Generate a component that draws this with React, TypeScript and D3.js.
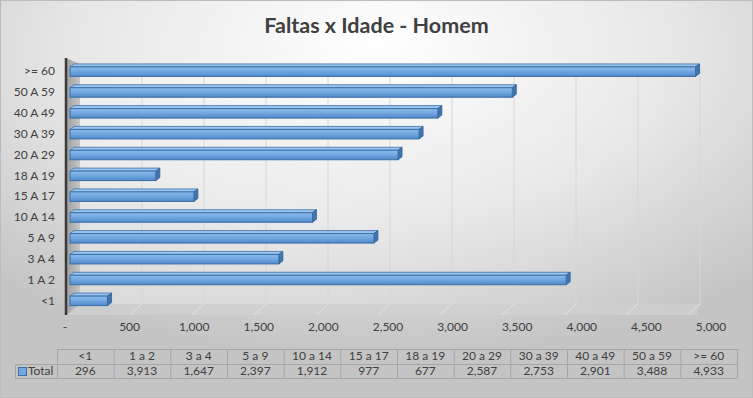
import * as d3 from 'd3';

const categories = ['<1', '1 A 2', '3 A 4', '5 A 9', '10 A 14', '15 A 17', '18 A 19', '20 A 29', '30 A 39', '40 A 49', '50 A 59', '>= 60'];
const tableLabels = ['<1', '1 a 2', '3 a 4', '5 a 9', '10 a 14', '15 a 17', '18 a 19', '20 a 29', '30 a 39', '40 a 49', '50 a 59', '>= 60'];
const totals = [296, 3913, 1647, 2397, 1912, 977, 677, 2587, 2753, 2901, 3488, 4933];
const tickValues = [0, 500, 1000, 1500, 2000, 2500, 3000, 3500, 4000, 4500, 5000];

const W = 753;
const H = 398;
const FONT = 'Lato, "Open Sans", sans-serif';
const TEXT = '#404040';

export default function App() {
  // three views of the same value axis: back wall, bars, front labels (3D look)
  const xBack = d3.scaleLinear().domain([0, 5000]).range([80, 700]);
  const xBar = d3.scaleLinear().domain([0, 5000]).range([70, 704]);
  const xLab = d3.scaleLinear().domain([0, 5000]).range([65, 711]);

  const y = d3
    .scaleBand<string>()
    .domain([...categories].reverse())
    .range([61, 311]);

  const fmt = d3.format(',');
  const tickText = (v: number) => (v === 0 ? '-' : fmt(v));

  const depthX = 4;
  const depthY = 3;
  const faceH = 9.5;

  const col = d3
    .scaleBand<string>()
    .domain(tableLabels)
    .range([57, 737]);
  const rowTop = 349;
  const rowMid = 364;
  const rowBot = 378;

  const wallTop = 64;
  const wallBot = 304;
  const frontBot = 315;

  return (
    <div style={{ position: 'absolute', left: 0, top: 0 }}>
      <svg width={W} height={H} style={{ display: 'block', fontFamily: FONT }}>
        <defs>
          <radialGradient id="bg" cx="50%" cy="15%" r="75%" fx="50%" fy="10%">
            <stop offset="0%" stopColor="#ffffff" />
            <stop offset="55%" stopColor="#e6e6e6" />
            <stop offset="100%" stopColor="#c4c4c4" />
          </radialGradient>
          <linearGradient id="wall" x1="0" y1="0" x2="1" y2="0">
            <stop offset="0%" stopColor="#ffffff" stopOpacity={0.35} />
            <stop offset="100%" stopColor="#ffffff" stopOpacity={0} />
          </linearGradient>
          <linearGradient id="side" x1="0" y1="0" x2="1" y2="0">
            <stop offset="0%" stopColor="#9e9e9e" />
            <stop offset="100%" stopColor="#c6c6c6" />
          </linearGradient>
          <linearGradient id="barFace" x1="0" y1="0" x2="0" y2="1">
            <stop offset="0%" stopColor="#8cbcec" />
            <stop offset="45%" stopColor="#72a9e2" />
            <stop offset="100%" stopColor="#5189ca" />
          </linearGradient>
        </defs>

        <rect x={0} y={0} width={W} height={H} fill="url(#bg)" />
        <rect x={0.5} y={0.5} width={W - 1} height={H - 1} fill="none" stroke="#bcbcbc" />

        <text x={W / 2} y={33} textAnchor="middle" fontSize={21.5} fontWeight={700} fill={TEXT}>
          Faltas x Idade - Homem
        </text>

        {/* back wall */}
        <rect x={xBack(0)} y={wallTop} width={xBack(5000) - xBack(0)} height={wallBot - wallTop} fill="url(#wall)" />

        {/* floor */}
        <path
          d={`M${xBack(0)},${wallBot} L${xBack(5000)},${wallBot} L${xLab(5000) - 14},${frontBot} L66,${frontBot} Z`}
          fill="#d2d2d2"
          opacity={0.6}
        />

        {/* gridlines on wall and floor */}
        {tickValues.slice(1).map((v) => (
          <g key={v}>
            <line x1={xBack(v)} x2={xBack(v)} y1={wallTop} y2={wallBot} stroke="#d6d6d6" strokeWidth={1} />
            <line x1={xBack(v)} x2={xBack(v) - 12} y1={wallBot} y2={frontBot} stroke="#e2e2e2" strokeWidth={1} />
          </g>
        ))}

        {/* left side wall */}
        <path d={`M66,${wallTop - 6} L80,${wallTop} L80,${wallBot} L66,${frontBot} Z`} fill="url(#side)" />
        <line x1={66} x2={66} y1={wallTop - 6} y2={frontBot} stroke="#3a3a3a" strokeWidth={2.5} />

        {/* bars */}
        {categories.map((c, i) => {
          const cy = (y(c) ?? 0) + y.bandwidth() / 2;
          const x0 = xBar(0);
          const x1 = xBar(totals[i]);
          const top = cy - 4.5;
          const bot = top + faceH;
          return (
            <g key={c}>
              <path
                d={`M${x0},${top} L${x0 + depthX},${top - depthY} L${x1 + depthX},${top - depthY} L${x1},${top} Z`}
                fill="#9cc6ef"
                stroke="#3d6fa8"
                strokeWidth={0.8}
              />
              <path
                d={`M${x1},${top} L${x1 + depthX},${top - depthY} L${x1 + depthX},${bot - depthY} L${x1},${bot} Z`}
                fill="#4274ae"
                stroke="#2f5f96"
                strokeWidth={0.8}
              />
              <rect x={x0} y={top} width={x1 - x0} height={faceH} fill="url(#barFace)" stroke="#3a6ea5" strokeWidth={1} />
            </g>
          );
        })}

        {/* category labels */}
        {categories.map((c) => (
          <text
            key={c}
            x={55}
            y={(y(c) ?? 0) + y.bandwidth() / 2 + 4}
            textAnchor="end"
            fontSize={12}
            fill={TEXT}
          >
            {c}
          </text>
        ))}

        {/* value axis labels */}
        {tickValues.map((v) => (
          <text key={v} x={xLab(v)} y={331} textAnchor="middle" fontSize={12} fill={TEXT}>
            {tickText(v)}
          </text>
        ))}

        {/* data table */}
        <g stroke="#a6a6a6" strokeWidth={1} fill="none">
          <line x1={57} x2={737} y1={rowTop + 0.5} y2={rowTop + 0.5} />
          <line x1={15} x2={737} y1={rowMid + 0.5} y2={rowMid + 0.5} />
          <line x1={15} x2={737} y1={rowBot + 0.5} y2={rowBot + 0.5} />
          <line x1={15.5} x2={15.5} y1={rowMid} y2={rowBot} />
          {tableLabels.map((l) => (
            <line key={l} x1={(col(l) ?? 0) + 0.5} x2={(col(l) ?? 0) + 0.5} y1={rowTop} y2={rowBot} />
          ))}
          <line x1={737.5} x2={737.5} y1={rowTop} y2={rowBot} />
        </g>
        {tableLabels.map((l, i) => {
          const cx = (col(l) ?? 0) + col.bandwidth() / 2;
          return (
            <g key={l} fontSize={12} fill={TEXT} textAnchor="middle">
              <text x={cx} y={rowTop + 11}>{l}</text>
              <text x={cx} y={rowMid + 11}>{fmt(totals[i])}</text>
            </g>
          );
        })}
        <rect x={18.5} y={367.5} width={8} height={8} fill="#72a9e2" stroke="#3a6ea5" />
        <text x={28} y={rowMid + 11} fontSize={12} fill={TEXT}>
          Total
        </text>
      </svg>
    </div>
  );
}
